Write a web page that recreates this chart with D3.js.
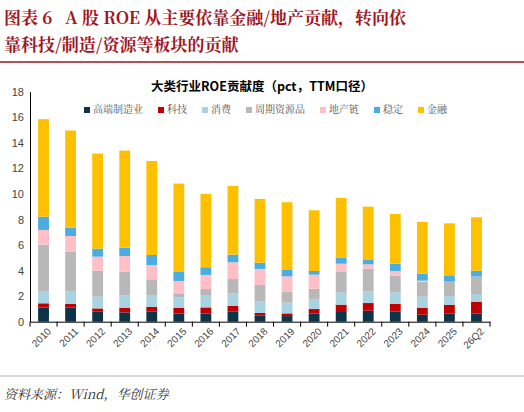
<!DOCTYPE html><html><head><meta charset="utf-8"><script src="https://cdn.jsdelivr.net/npm/d3@7"></script>
<style>body{margin:0;background:#fff}svg{display:block}text{white-space:pre}</style></head><body><svg id="c" width="524" height="412"></svg><script>
const years=["2010","2011","2012","2013","2014","2015","2016","2017","2018","2019","2020","2021","2022","2023","2024","2025","26Q2"];
const seriesNames=["高端制造业","科技","消费","周期资源品","地产链","稳定","金融"];
const colors=["#0d3349","#c00000","#a9d3e0","#b8b8b8","#ffbfc6","#4aace0","#ffc000"];
const manuf=[1.1,1.1,.78,.73,.78,.65,.65,.78,.47,.44,.65,.76,.86,.81,.55,.65,.65];
const tech=[.34,.31,.26,.37,.39,.45,.47,.45,.21,.21,.34,.57,.6,.6,.55,.66,.92];
const cons=[.96,.99,.92,.94,.92,.8,.97,.99,.94,.84,.79,.94,.89,.89,.86,.7,.6];
const cycl=[3.63,3.06,2.04,1.88,1.23,.32,.47,1.12,1.25,.83,.8,1.62,1.8,1.3,1.17,1.1,1.33];
const realty=[1.15,1.25,1.09,1.22,1.12,.97,1.1,1.31,1.26,1.23,1.1,.65,.34,.37,.08,.02,.03];
const stable=[1.04,.65,.63,.66,.78,.7,.6,.6,.49,.5,.29,.45,.34,.57,.55,.5,.46];
const finance=[7.63,7.6,7.44,7.59,7.36,6.92,5.74,5.38,4.99,5.3,4.75,4.7,4.17,3.89,4.05,4.07,4.18];
const yTicks=[0,2,4,6,8,10,12,14,16,18];
const all=[manuf,tech,cons,cycl,realty,stable,finance];
const svg=d3.select("#c");
const red="#a0141e";
svg.append("text").attr("x",4).attr("y",24).attr("fill",red).attr("font-family","Noto Serif CJK SC, Noto Sans CJK SC").attr("font-weight","bold").attr("font-size",17).text("图表 6   A 股 ROE 从主要依靠金融/地产贡献，转向依");
svg.append("text").attr("x",4).attr("y",51).attr("fill",red).attr("font-family","Noto Serif CJK SC, Noto Sans CJK SC").attr("font-weight","bold").attr("font-size",17).text("靠科技/制造/资源等板块的贡献");
svg.append("line").attr("x1",0).attr("x2",524).attr("y1",62).attr("y2",62).attr("stroke",red).attr("stroke-width",1.5);
svg.append("text").attr("x",262).attr("y",91).attr("text-anchor","middle").attr("font-family","Noto Sans CJK SC").attr("font-weight","bold").attr("font-size",12.5).text("大类行业ROE贡献度（pct，TTM口径）");
const x=d3.scaleBand().domain(years).range([30,490]).paddingInner(0.6).paddingOuter(0.3);
const y=d3.scaleLinear().domain([0,18]).range([321.7,91.7]);
const data=years.map((yr,i)=>{const o={yr};seriesNames.forEach((s,k)=>o[s]=all[k][i]);return o;});
const st=d3.stack().keys(seriesNames)(data);
svg.append("g").selectAll("g").data(st).join("g").attr("fill",(d,i)=>colors[i]).selectAll("rect").data(d=>d).join("rect")
 .attr("x",d=>x(d.data.yr)).attr("width",x.bandwidth()).attr("y",d=>y(d[1])).attr("height",d=>y(d[0])-y(d[1]));
const ya=svg.append("g").attr("transform","translate(30,0)").call(d3.axisLeft(y).tickValues(yTicks).tickSize(0).tickPadding(6));
ya.selectAll("text").attr("font-family","Liberation Sans").attr("font-size",11).attr("fill","#444");
ya.select(".domain").attr("stroke","#000");
const xa=svg.append("g").attr("transform","translate(0,321.7)").call(d3.axisBottom(x).tickSize(0));
xa.select(".domain").attr("stroke","#000");
xa.selectAll("line.sep").data(d3.range(years.length+1)).join("line").attr("class","sep")
 .attr("x1",i=>x.range()[0]+i*(x.range()[1]-x.range()[0])/years.length).attr("x2",i=>x.range()[0]+i*(x.range()[1]-x.range()[0])/years.length).attr("y1",0).attr("y2",5).attr("stroke","#000");
xa.selectAll(".tick text").attr("font-family","Liberation Sans").attr("font-size",10).attr("fill","#444").attr("text-anchor","end").attr("transform","translate(4,6) rotate(-45)").attr("dy","0.3em");
const lg=svg.append("g").attr("transform","translate(84,113)");
let lx=0;
seriesNames.forEach((s,i)=>{const g=lg.append("g").attr("transform",`translate(${lx},0)`);
 g.append("rect").attr("width",6).attr("height",6).attr("y",-6).attr("fill",colors[i]);
 g.append("text").attr("x",9).attr("y",0).attr("font-family","Noto Serif CJK SC, Noto Sans CJK SC").attr("font-size",10).attr("fill","#555").text(s);
 lx+=16+s.length*10+8;});
svg.append("line").attr("x1",0).attr("x2",524).attr("y1",376).attr("y2",376).attr("stroke","#999").attr("stroke-width",0.8);
svg.append("text").attr("x",4).attr("y",399).attr("font-family","Noto Serif CJK SC, Noto Sans CJK SC").attr("font-style","italic").attr("font-size",13).attr("fill","#333").text("资料来源：Wind，华创证券");
</script></body></html>
